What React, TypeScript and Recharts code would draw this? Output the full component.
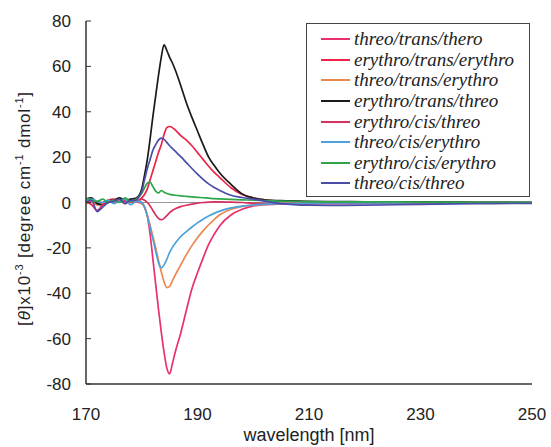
import { LineChart, Line, XAxis, YAxis, ReferenceLine, Legend } from "recharts";

// wavelength [nm]
const wavelengths = [
  170, 171, 172, 173, 174, 175, 176, 177, 178, 179, 179.5,
  180, 180.5, 181, 181.5, 182, 182.5, 183, 183.5, 184, 184.5, 185, 185.5, 186,
  187, 188, 189, 190, 191, 192, 193, 194,
  196, 198, 200, 202,
  205, 210, 215, 220,
  230, 240, 250,
];

const threoTransThero = [
  1, 0.5, -1, 0, 1, 0.5, 1.5, 0.5, 1, 0.5, 0,
  -0.5, -2, -6, -14, -25, -36, -47, -57, -66, -73, -75.5, -71, -66,
  -57.5, -47.5, -38, -31, -24.5, -18.5, -14, -10.2,
  -5.5, -3, -1.5, -1,
  -0.7, -0.5, -0.4, -0.3,
  -0.2, -0.1, 0,
];

const erythroTransErythro = [
  0.5, 1.5, 0, -0.5, 1, 1.5, 0.5, 1, 0, 0.5, 1,
  2, 3.5, 6, 10, 14, 18, 22, 25.5, 30, 33, 33.5, 33, 32,
  29.5, 27.5, 25, 22, 19, 16, 13.3, 11,
  6.5, 3.5, 2, 1.2,
  0.6, 0.3, 0.2, 0.1,
  0.1, 0, 0,
];

const threoTransErythro = [
  -0.5, 0, -1, -0.5, 0.5, 0, 1, -0.5, 0.5, 0.5, 0.5,
  0, -2, -5.5, -10, -15, -20, -25.5, -30.5, -35, -37.5, -37, -34.5, -32,
  -27.5, -23, -19, -15.5, -12.5, -9.8, -7.5, -5.4,
  -3, -1.7, -1.1, -0.8,
  -0.5, -0.3, -0.2, -0.2,
  -0.1, -0.1, 0,
];

const erythroTransThreo = [
  1.5, 2, -0.5, -1, 0.5, 1, 2, 1, 1.5, 2, 3,
  6, 12, 19, 28, 38, 47, 56, 64, 69.5, 67, 64, 61.5, 58.5,
  51.5, 44, 37.5, 31.5, 25.5, 20, 16.3, 13,
  8, 3.8, 2, 1.2,
  0.8, 0.5, 0.4, 0.3,
  0.2, 0.1, 0,
];

const erythroCisThreo = [
  0.5, -1, -3.5, -1, 0, 1, 0.5, 1, 0.5, 0.5, 1,
  1.5, 1, 0, -1.5, -3.5, -5.5, -7, -7.6, -7, -5.8, -4.5, -3.5, -2.8,
  -1.8, -1.2, -0.7, -0.3, 0, 0.2, 0.3, 0.3,
  0.2, 0, -0.3, -0.5,
  -0.6, -0.5, -0.4, -0.3,
  -0.2, -0.1, 0,
];

const threoCisErythro = [
  1, 1.5, 0.5, 0, 1, -0.5, 0.5, 1.5, -1, 0.5, 0.5,
  0, -2, -6, -11, -16, -21.5, -26.5, -28.8, -27.5, -25, -22, -19.8, -18,
  -15, -12.8, -10.8, -9, -7.4, -6, -4.8, -3.8,
  -2.4, -1.6, -1.1, -0.8,
  -0.5, -0.3, -0.2, -0.2,
  -0.1, -0.1, 0,
];

const erythroCisErythro = [
  2, 1, 0.5, 1.5, 0, 1, 0, 2, 0.5, 1.5, 2.5,
  4, 6.5, 8.5, 9, 7, 5, 4.2, 5.3, 4.5, 4, 3.6, 3.4, 3.2,
  2.9, 2.7, 2.5, 2.3, 2.1, 1.9, 1.7, 1.6,
  1.4, 1.2, 1, 0.8,
  0.6, 0.4, 0.3, 0.3,
  0.2, 0.1, 0.1,
];

const threoCisThreo = [
  0, 1, -4, -2, 0, 0.5, 1.5, -0.5, 1, 1, 2.5,
  5, 10, 15, 19, 23, 25.5, 27.5, 28.4, 27.8, 26.5, 25, 23.8, 22.6,
  20.2, 17.6, 15, 12.5, 10.2, 8.2, 6.6, 5.3,
  3.2, 2.2, 1.5, 0.6,
  -0.5, -1.2, -1.3, -1.2,
  -0.8, -0.5, -0.4,
];

const xTicks = [170, 190, 210, 230, 250];
const yTicks = [-80, -60, -40, -20, 0, 20, 40, 60, 80];

const series = [
  { key: "tt", name: "threo/trans/thero", values: threoTransThero, color: "#E8316E" },
  { key: "ete", name: "erythro/trans/erythro", values: erythroTransErythro, color: "#EE2348" },
  { key: "tte", name: "threo/trans/erythro", values: threoTransErythro, color: "#EE8650" },
  { key: "ett", name: "erythro/trans/threo", values: erythroTransThreo, color: "#1a1a1a" },
  { key: "ect", name: "erythro/cis/threo", values: erythroCisThreo, color: "#D8305F" },
  { key: "tce", name: "threo/cis/erythro", values: threoCisErythro, color: "#4BA3DA" },
  { key: "ece", name: "erythro/cis/erythro", values: erythroCisErythro, color: "#2DA54A" },
  { key: "tct", name: "threo/cis/threo", values: threoCisThreo, color: "#4A4CA8" },
];

const data = wavelengths.map((wl, i) => {
  const row: Record<string, number> = { wl };
  series.forEach((s) => {
    row[s.key] = s.values[i];
  });
  return row;
});

const sans = "'Liberation Sans', Arial, sans-serif";
const serif = "'Liberation Serif', 'Times New Roman', serif";

const Y_MARGIN = 15;

// y ticks drawn inward from the axis line
const YTick = (props: any) => {
  const { x, y, payload } = props;
  const axisX = x + Y_MARGIN;
  return (
    <g>
      <line x1={axisX} x2={axisX + 5} y1={y} y2={y} stroke="#333" strokeWidth={1} />
      <text x={x} y={y} dy="0.36em" textAnchor="end" fontSize={17} fontFamily={sans} fill="#222">
        {payload.value}
      </text>
    </g>
  );
};

const YTitle = (props: any) => {
  const { viewBox } = props;
  const cx = viewBox.x + 29.5;
  const cy = viewBox.y + viewBox.height / 2 + 6;
  return (
    <text
      x={cx}
      y={cy}
      transform={`rotate(-90, ${cx}, ${cy})`}
      textAnchor="middle"
      fontSize={17}
      fontFamily={sans}
      fill="#222"
      letterSpacing={0.8}
    >
      [<tspan fontStyle="italic">θ</tspan>]x10
      <tspan dy={-7} fontSize={11}>-3</tspan>
      <tspan dy={7}> [degree cm</tspan>
      <tspan dy={-7} fontSize={11}>-1</tspan>
      <tspan dy={7}> dmol</tspan>
      <tspan dy={-7} fontSize={11}>-1</tspan>
      <tspan dy={7}>]</tspan>
    </text>
  );
};

// legend keeps the series order
const LegendBox = () => (
  <div
    style={{
      border: "1px solid #444",
      background: "#fff",
      padding: "5px 0 2px 0",
      width: 222,
    }}
  >
    {series.map((s) => (
      <div key={s.key} style={{ display: "flex", alignItems: "center", height: 20.6 }}>
        <span style={{ display: "inline-block", width: 29, height: 2, background: s.color, marginLeft: 14, marginRight: 4 }} />
        <span style={{ fontFamily: serif, fontStyle: "italic", fontSize: 19, color: "#222", lineHeight: "20px", whiteSpace: "nowrap" }}>
          {s.name}
        </span>
      </div>
    ))}
  </div>
);

const App = () => {
  return (
    <div style={{ position: "absolute", left: 0, top: 0, width: 551, height: 447, background: "#fff" }}>
      <LineChart width={551} height={447} data={data} margin={{ top: 21, right: 19, bottom: 0, left: 0 }}>
        <XAxis
          dataKey="wl"
          type="number"
          domain={[170, 250]}
          ticks={xTicks}
          tickLine={false}
          tickSize={0}
          tickMargin={24}
          height={63}
          axisLine={{ stroke: "#333", strokeWidth: 1.5 }}
          tick={{ fontSize: 17, fontFamily: sans, fill: "#222" }}
          label={{ value: "wavelength [nm]", position: "insideBottom", offset: 6, fontSize: 18, fontFamily: sans, fill: "#222" }}
        />
        <YAxis
          type="number"
          domain={[-80, 80]}
          ticks={yTicks}
          width={86}
          tickLine={false}
          tickSize={0}
          tickMargin={Y_MARGIN}
          axisLine={{ stroke: "#333", strokeWidth: 1.5 }}
          tick={<YTick />}
          label={<YTitle />}
        />
        <ReferenceLine y={0} stroke="#9a9a9a" strokeWidth={1} />
        <Legend
          layout="vertical"
          align="center"
          verticalAlign="middle"
          content={<LegendBox />}
          wrapperStyle={{ left: 306, top: 23, width: 224, height: "auto" }}
        />
        {series.map((s) => (
          <Line
            key={s.key}
            type="monotone"
            dataKey={s.key}
            name={s.name}
            stroke={s.color}
            strokeWidth={1.7}
            dot={false}
            isAnimationActive={false}
          />
        ))}
      </LineChart>
    </div>
  );
};

export default App;
